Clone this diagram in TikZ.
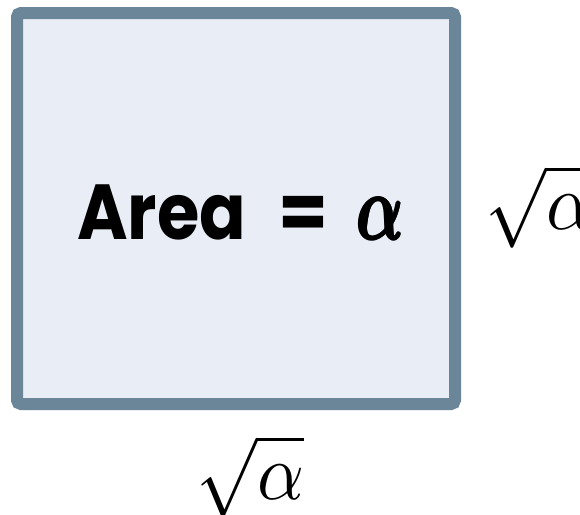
\documentclass[tikz,border=0pt]{standalone}
\usepackage{fontspec}
\usepackage{amsmath,bm,graphicx}
\newfontfamily\popfont{Poppins}[UprightFont={* Bold}]
\definecolor{boxedge}{HTML}{6B8599}
\definecolor{boxfill}{HTML}{E9EEF6}
\newsavebox\alphabox
\newcommand{\heavyalpha}{\makebox{\rlap{\usebox\alphabox}\rlap{\kern2pt\usebox\alphabox}\rlap{\kern1pt\raisebox{1pt}{\usebox\alphabox}}\rlap{\kern1pt\raisebox{-1pt}{\usebox\alphabox}}\kern2pt\usebox\alphabox}}
\begin{document}
\sbox\alphabox{\scalebox{6.2}[9.3]{$\bm{\alpha}$}}
\begin{tikzpicture}[x=1pt,y=-1pt,
  sidelabel/.style={inner sep=0pt,anchor=base west}]
\useasboundingbox (0,0) rectangle (580,514);
\fill[white] (0,0) rectangle (580,514);
\draw[boxedge,fill=boxfill,line width=12pt,rounded corners=4pt] (17,13) rectangle (455,404);
\node[inner sep=0pt,anchor=base west] (t) at (77,239) {\fontsize{78}{80}\selectfont\popfont\scalebox{0.88}[1]{Area}\hspace{32pt}\scalebox{0.92}[1]{=}\hspace{27pt}\heavyalpha};
\node[sidelabel] (r) at (485,229) {\scalebox{7.3}[8]{$\sqrt{\alpha}$}};
\node[sidelabel] (b) at (196,499) {\scalebox{7.3}[8]{$\sqrt{\alpha}$}};
\end{tikzpicture}
\end{document}
